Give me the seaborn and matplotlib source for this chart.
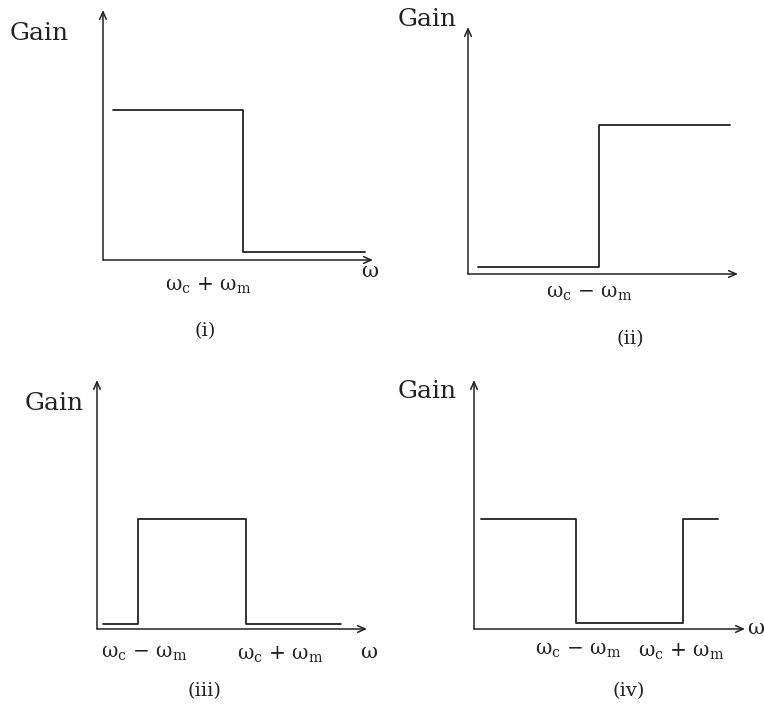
import matplotlib
matplotlib.use("Agg")
import matplotlib.pyplot as plt
import seaborn as sns

# ---- data: frequency breakpoints (0-100 along each axis) and gain levels ----
freq_i = [3.7, 51.9, 97.0]
gain_i = [60.0, 3.2, 3.2]

freq_ii = [3.7, 48.5, 97.0]
gain_ii = [2.8, 60.3, 60.3]

freq_iii = [2.2, 15.2, 55.2, 90.4]
gain_iii = [2.0, 44.2, 2.0, 2.0]

freq_iv = [2.6, 37.6, 77.1, 90.0]
gain_iv = [44.2, 2.4, 44.2, 44.2]

# upright omega with roman subscripts, like the textbook figure
minus = "ω$_{\\rm c}$ − ω$_{\\rm m}$"
plus = "ω$_{\\rm c}$ + ω$_{\\rm m}$"
labels_i = [plus]
labels_ii = [minus]
labels_iii = [minus, plus]
labels_iv = [minus, plus]
tick_i = [38.9]
tick_ii = [45.0]
tick_iii = [17.6, 67.8]
tick_iv = [38.4, 76.6]

captions = ["(i)", "(ii)", "(iii)", "(iv)"]

sns.set_theme(style="white")
plt.rcParams["font.family"] = ["DejaVu Serif"]
plt.rcParams["mathtext.fontset"] = "dejavuserif"

W, H = 764, 706
INK = "#222222"
fig = plt.figure(figsize=(W / 100, H / 100), dpi=100)


def px_axes(x0, y0, x1, y1):
    # axes from pixel box: x0 = y-axis, y1 = x-axis, x1 = arrow tip, y0 = arrow top
    return fig.add_axes([x0 / W, 1 - y1 / H, (x1 - x0) / W, (y1 - y0) / H])


def draw_panel(ax, freq, gain, ticks, labels, pad):
    sns.lineplot(x=freq, y=gain, ax=ax, drawstyle="steps-post",
                 color=INK, linewidth=1.3)
    ax.set_xlim(0, 100)
    ax.set_ylim(0, 100)
    for s in ax.spines.values():
        s.set_visible(False)
    ax.set_yticks([])
    ax.set_xticks(ticks)
    ax.set_xticklabels(labels, fontsize=14.5, color=INK)
    ax.tick_params(axis="x", length=0, pad=pad)
    ax.set_xlabel("")
    ax.set_ylabel("")
    arrow = dict(arrowstyle="->,head_length=0.45,head_width=0.2",
                 color=INK, lw=1.1, shrinkA=0, shrinkB=0)
    ax.annotate("", xy=(1, 0), xytext=(0, 0), xycoords="axes fraction",
                arrowprops=arrow)
    ax.annotate("", xy=(0, 1), xytext=(0, 0), xycoords="axes fraction",
                arrowprops=arrow)


def ftext(x, y, s, size=18, **kw):
    fig.text(x / W, 1 - y / H, s, fontsize=size, color=INK,
             ha="center", va="center", **kw)


ax1 = px_axes(103, 10, 373, 260)
draw_panel(ax1, freq_i, gain_i, tick_i, labels_i, 11)
ax2 = px_axes(468, 27, 738, 274)
draw_panel(ax2, freq_ii, gain_ii, tick_ii, labels_ii, 7)
ax3 = px_axes(97, 380, 367, 629)
draw_panel(ax3, freq_iii, gain_iii, tick_iii, labels_iii, 11)
ax4 = px_axes(474, 380, 745, 629)
draw_panel(ax4, freq_iv, gain_iv, tick_iv, labels_iv, 9)

# "Gain" labels
ftext(39, 33, "Gain")
ftext(427, 20, "Gain")
ftext(54, 403, "Gain")
ftext(427, 392, "Gain")

# omega axis labels
ftext(370, 272, "ω", size=15)
ftext(369, 653, "ω", size=15)
ftext(756, 629, "ω", size=15)

# captions
ftext(205, 331, captions[0], size=14)
ftext(630, 339, captions[1], size=14)
ftext(204, 691, captions[2], size=14)
ftext(629, 691, captions[3], size=14)

fig.savefig("out.png", dpi=100)
